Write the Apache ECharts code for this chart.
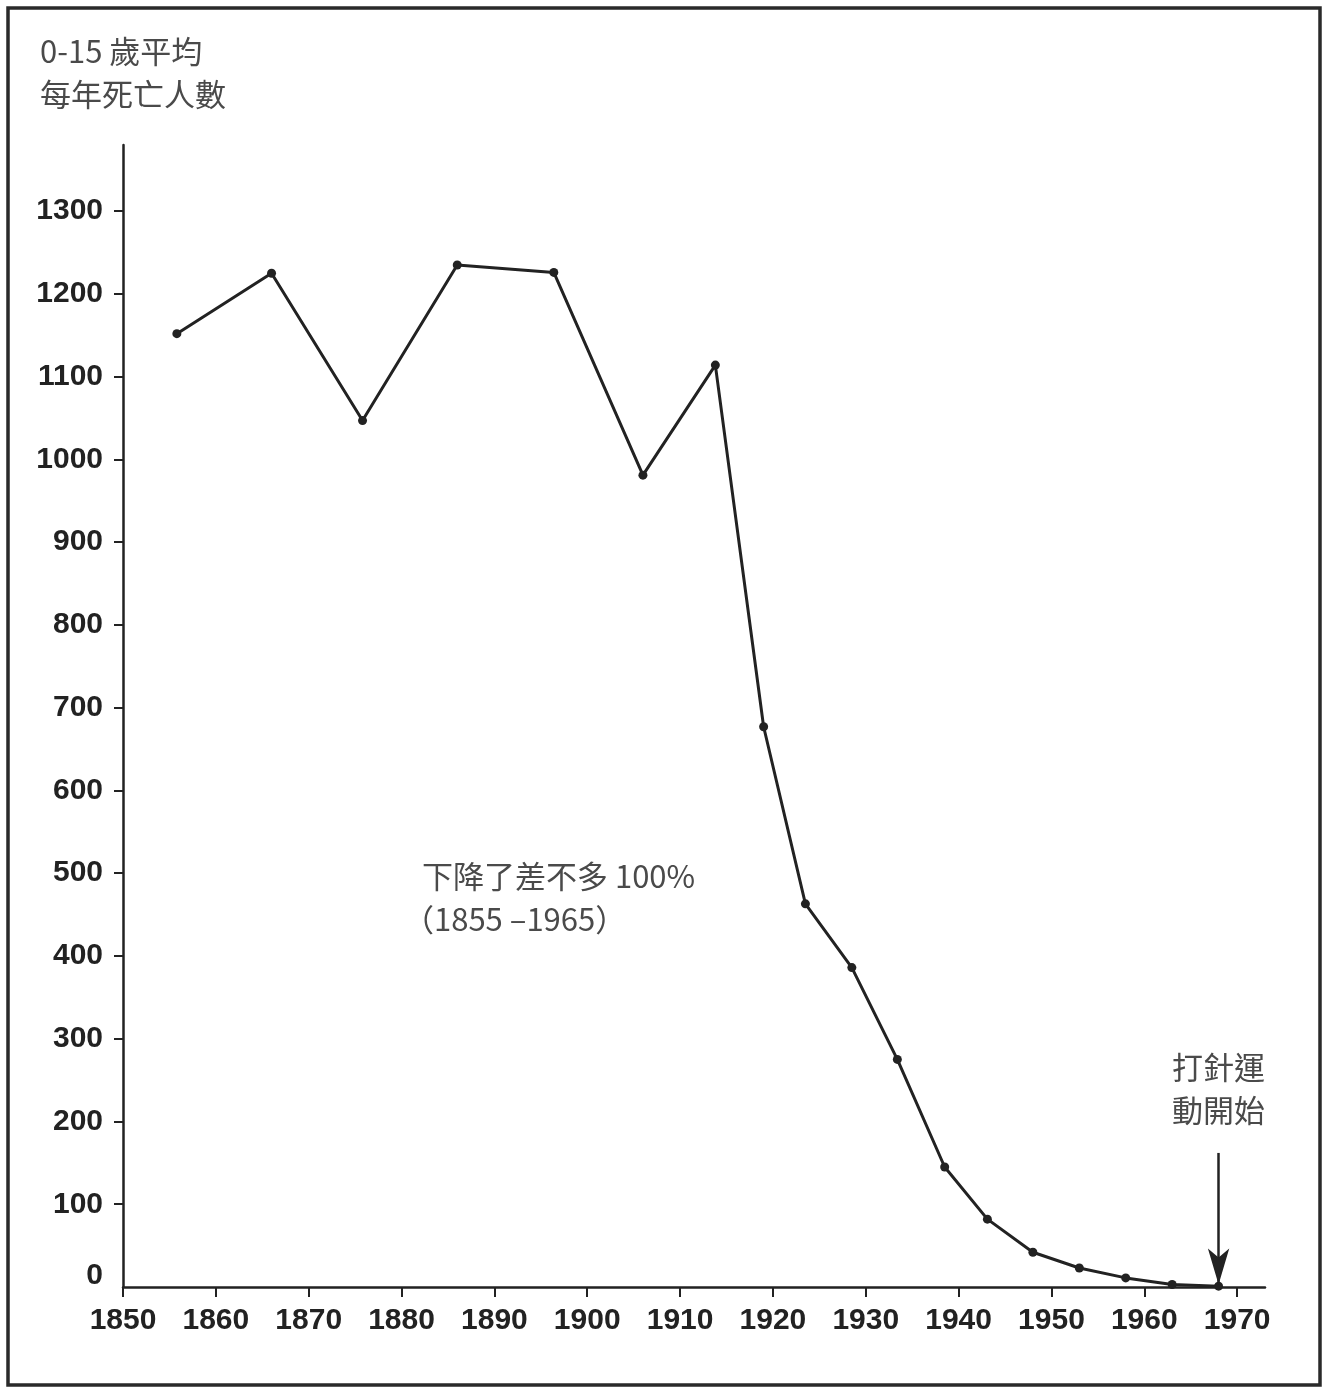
<!DOCTYPE html>
<html>
<head>
<meta charset="utf-8">
<script src="https://cdn.jsdelivr.net/npm/echarts@6/dist/echarts.min.js"></script>
<style>
html,body{margin:0;padding:0;background:#fff;}
#chart{width:1327px;height:1389px;}
</style>
</head>
<body>
<div id="chart"></div>
<script>
// Data
const years  = [1855.8, 1866, 1875.8, 1886, 1896.4, 1906, 1913.8, 1919, 1923.5, 1928.5, 1933.4, 1938.5, 1943.1, 1948, 1953, 1958, 1963, 1968];
const deaths = [1152, 1225, 1047, 1235, 1226, 981, 1114, 677, 463, 386, 275, 145, 82, 42, 23, 11, 3, 1];
const xTicks = [1850, 1860, 1870, 1880, 1890, 1900, 1910, 1920, 1930, 1940, 1950, 1960, 1970];
const yTicks = [0, 100, 200, 300, 400, 500, 600, 700, 800, 900, 1000, 1100, 1200, 1300];
const yTickMarks = [100, 200, 300, 400, 500, 600, 700, 800, 900, 1000, 1100, 1200, 1300];
const titleLines = ['0-15 歲平均', '每年死亡人數'];
const noteLine1 = '下降了差不多 100%';
const noteLine2 = '（1855 –1965）';
const arrowLines = ['打針運', '動開始'];
const arrowYear = 1968, arrowTop = 162, arrowEnd = 3;

const cjk = '"Noto Sans CJK TC", "Noto Sans CJK SC", sans-serif';
const txtColor = '#4a4a4a';
const ink = '#222';
const numFont = '"Liberation Sans", Arial, sans-serif';

const chart = echarts.init(document.getElementById('chart'), null, {renderer: 'canvas'});
chart.setOption({
  backgroundColor: '#ffffff',
  animation: false,
  grid: {left: 123, right: 62, top: 145, bottom: 102, containLabel: false},
  xAxis: {
    type: 'value', min: 1850, max: 1973,
    axisLine: {show: true, onZero: false, lineStyle: {color: ink, width: 2.5}},
    axisTick: {show: true, inside: false, length: 10, customValues: xTicks, lineStyle: {color: ink, width: 2}},
    axisLabel: {customValues: xTicks, margin: 19, color: ink, fontFamily: numFont, fontWeight: 'bold', fontSize: 30,
      formatter: v => String(v)},
    splitLine: {show: false}
  },
  yAxis: {
    type: 'value', min: 0, max: 1380,
    axisLine: {show: true, lineStyle: {color: ink, width: 2.5}},
    axisTick: {show: true, inside: false, length: 9, customValues: yTickMarks, lineStyle: {color: ink, width: 2}},
    axisLabel: {
      customValues: yTicks, margin: 20, color: ink,
      fontFamily: numFont, fontWeight: 'bold', fontSize: 30,
      formatter: v => v === 0 ? '{z|0}' : String(v),
      rich: {z: {fontFamily: numFont, fontWeight: 'bold', fontSize: 30, color: ink, padding: [0, 0, 22, 0]}}
    },
    splitLine: {show: false}
  },
  series: [{
    type: 'line',
    data: years.map((y, i) => [y, deaths[i]]),
    symbol: 'circle', symbolSize: 9,
    lineStyle: {color: ink, width: 3},
    itemStyle: {color: ink},
    z: 3,
    markLine: {
      silent: true,
      animation: false,
      label: {show: false},
      lineStyle: {color: ink, width: 2.5, type: 'solid'},
      data: [[
        {coord: [arrowYear, arrowTop], symbol: 'none'},
        {coord: [arrowYear, arrowEnd], symbol: 'arrow', symbolSize: [16, 36]}
      ]]
    }
  }],
  graphic: [
    {type: 'rect', shape: {x: 8, y: 8, width: 1312, height: 1377}, style: {fill: 'none', stroke: '#2a2a2a', lineWidth: 3.5}, silent: true},
    {type: 'text', left: 40, top: 30, style: {text: titleLines.join('\n'), font: '31px ' + cjk, fill: txtColor, lineHeight: 43}},
    {type: 'text', left: 422, top: 861, style: {text: noteLine1, font: '31px ' + cjk, fill: txtColor}},
    {type: 'text', left: 403, top: 904, style: {text: noteLine2, font: '31px ' + cjk, fill: txtColor}},
    {type: 'text', left: 1172, top: 1046, style: {text: arrowLines.join('\n'), font: '31px ' + cjk, fill: txtColor, lineHeight: 43}}
  ]
});
</script>
</body>
</html>
